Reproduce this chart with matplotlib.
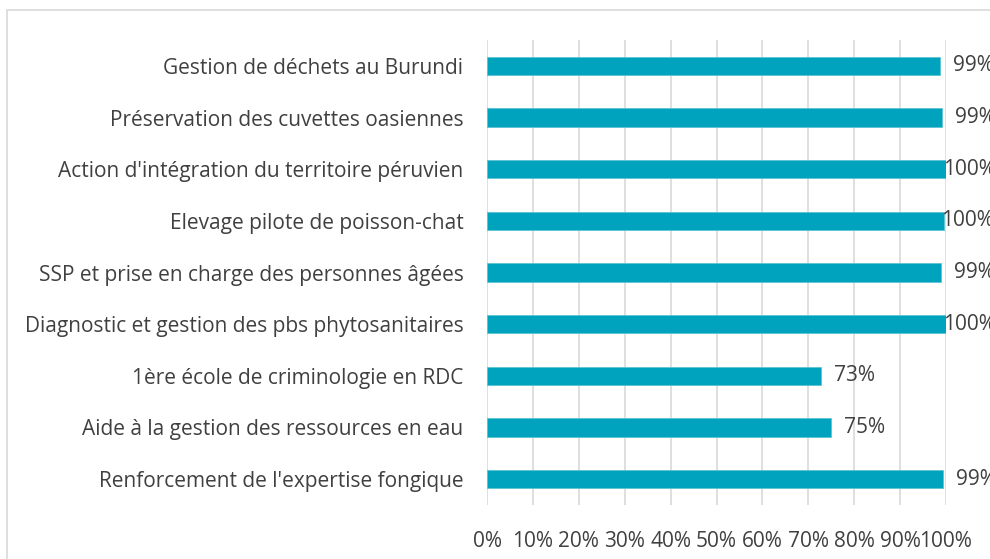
import matplotlib
matplotlib.use("Agg")
import matplotlib.pyplot as plt
from matplotlib.patches import Rectangle

# projets et taux de réalisation
projets = ["Gestion de déchets au Burundi",
           "Préservation des cuvettes oasiennes",
           "Action d'intégration du territoire péruvien",
           "Elevage pilote de poisson-chat",
           "SSP et prise en charge des personnes âgées",
           "Diagnostic et gestion des pbs phytosanitaires",
           "1ère école de criminologie en RDC",
           "Aide à la gestion des ressources en eau",
           "Renforcement de l'expertise fongique"]
taux = [0.987, 0.991, 1.0, 0.996, 0.989, 1.0, 0.728, 0.749, 0.993]
xticks = [0, 0.1, 0.2, 0.3, 0.4, 0.5, 0.6, 0.7, 0.8, 0.9, 1.0]

plt.rcParams["font.family"] = ["Open Sans", "DejaVu Sans"]
txt = "#404040"
bleu = "#00A3BD"
fs = 15

fig = plt.figure(figsize=(9.9, 5.59), dpi=100)
# cadre du graphique (coupé a droite et en bas)
fig.patches.append(Rectangle((7/990, -0.05), 1.2, 1 - 10/559 + 0.05,
                             transform=fig.transFigure, fill=False,
                             edgecolor="#d9d9d9", lw=1.2))

ax = fig.add_axes([487/990, 54/559, 459/990, 465/559])
y = list(range(len(projets)))
ax.barh(y, taux, height=0.35, color=bleu, edgecolor="#5cc3d3", lw=0.6, zorder=3)
ax.set_ylim(len(projets) - 0.5, -0.5)
ax.set_xlim(0, 1.0)
ax.set_yticks(y)
ax.set_yticklabels(projets, fontsize=fs, color=txt)
ax.set_xticks(xticks)
ax.set_xticklabels([f"{int(round(v*100))}%" for v in xticks], fontsize=fs, color=txt)
ax.tick_params(axis="y", length=0, pad=17)
ax.tick_params(axis="x", length=0, pad=19)
ax.grid(axis="x", color="#d9d9d9", lw=1.2, zorder=0)
for s in ax.spines.values():
    s.set_visible(False)

for yi, v in zip(y, taux):
    dx = -3 if v >= 0.995 else 13
    ax.annotate(f"{round(v*100):.0f}%", (v, yi), xytext=(dx, 0),
                textcoords="offset pixels", ha="left", va="center",
                fontsize=fs, color=txt, annotation_clip=False)

fig.savefig("out.png", dpi=100)
